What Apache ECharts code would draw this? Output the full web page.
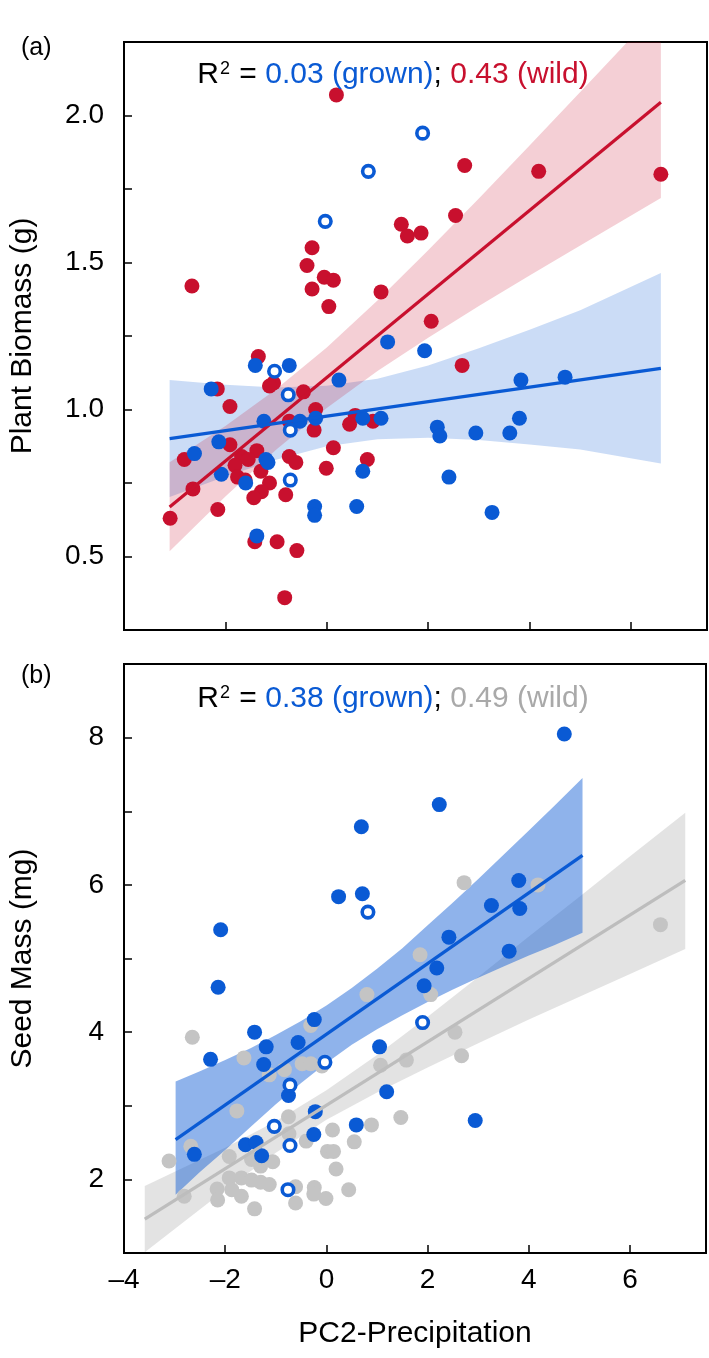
<!DOCTYPE html>
<html>
<head>
<meta charset="utf-8">
<title>Biomass and seed mass vs PC2-Precipitation</title>
<script src="https://cdn.jsdelivr.net/npm/echarts@6.0.0/dist/echarts.min.js"></script>
<style>
  html, body { margin: 0; padding: 0; background: #fff; }
  #chart { width: 709px; height: 1358px; }
</style>
</head>
<body>
<div id="chart"></div>
<script>
// ---- panel (a): plant biomass ----
const biomassWild = [
  [0.19, 2.07], [2.72, 1.83], [2.54, 1.66], [1.47, 1.63], [1.59, 1.59], [1.86, 1.60],
  [-0.29, 1.55], [-0.39, 1.49], [-0.05, 1.45], [0.13, 1.44], [-2.66, 1.42], [-0.29, 1.41],
  [1.07, 1.40], [0.04, 1.35], [2.06, 1.30], [4.18, 1.81], [6.59, 1.80], [2.67, 1.15],
  [-1.35, 1.18], [-1.05, 1.09], [-1.13, 1.08], [-2.16, 1.07], [-0.46, 1.06], [-1.91, 1.01],
  [-0.22, 1.00], [0.56, 0.98], [0.45, 0.95], [0.91, 0.96], [-0.74, 0.96], [-0.25, 0.93],
  [-1.91, 0.88], [-2.81, 0.83], [0.13, 0.87], [-1.38, 0.86], [-1.68, 0.84], [-1.55, 0.83],
  [-0.74, 0.84], [-0.61, 0.82], [-1.81, 0.81], [0.80, 0.83], [-0.01, 0.80], [-1.30, 0.79],
  [-1.76, 0.77], [-1.61, 0.76], [-1.13, 0.75], [-2.64, 0.73], [-1.29, 0.72], [-1.44, 0.70],
  [-0.81, 0.71], [-2.15, 0.66], [-3.09, 0.63], [-1.42, 0.55], [-0.98, 0.55], [-0.59, 0.52],
  [-0.83, 0.36]
]
const biomassGrown = [
  [1.20, 1.23], [1.93, 1.20], [-1.41, 1.15], [-0.74, 1.15], [0.24, 1.10], [-2.28, 1.07],
  [-0.22, 0.97], [0.71, 0.97], [1.07, 0.97], [-1.24, 0.96], [-0.53, 0.96], [2.18, 0.94],
  [2.23, 0.91], [2.94, 0.92], [-2.13, 0.89], [-2.61, 0.85], [-1.20, 0.83], [-1.16, 0.82],
  [0.71, 0.79], [-2.08, 0.78], [-1.60, 0.75], [-0.24, 0.67], [-0.24, 0.64], [0.59, 0.67],
  [3.26, 0.65], [-1.38, 0.57], [3.83, 1.10], [4.70, 1.11], [3.80, 0.97], [3.61, 0.92],
  [2.41, 0.77]
]
const biomassGrownOpen = [
  [1.89, 1.94], [0.82, 1.81], [-0.03, 1.64], [-1.03, 1.13], [-0.76, 1.05], [-0.72, 0.93], [-0.72, 0.76]
]
const biomassWildFit = [[-3.1, 0.668], [6.59, 2.045]]
const biomassGrownFit = [[-3.1, 0.901], [6.59, 1.140]]
const biomassBandX = [-3.1, -2, -1, 0, 1, 2, 3, 4, 5, 6.59]
const biomassWildLo = [0.518, 0.704, 0.863, 1.005, 1.131, 1.244, 1.352, 1.456, 1.558, 1.719]
const biomassWildHi = [0.821, 0.944, 1.069, 1.211, 1.371, 1.542, 1.718, 1.898, 2.080, 2.371]
const biomassGrownLo = [0.702, 0.772, 0.829, 0.875, 0.899, 0.904, 0.896, 0.881, 0.864, 0.816]
const biomassGrownHi = [1.100, 1.084, 1.075, 1.081, 1.105, 1.150, 1.208, 1.271, 1.338, 1.464]

// ---- panel (b): seed mass ----
const seedGrown = [
  [2.23, 7.09], [0.69, 6.79], [0.24, 5.84], [0.71, 5.88], [-2.09, 5.39], [2.42, 5.29],
  [2.18, 4.87], [4.70, 8.05], [3.80, 6.06], [3.26, 5.72], [3.82, 5.68], [3.61, 5.10],
  [1.93, 4.63], [-2.14, 4.61], [-0.24, 4.17], [-1.42, 4.00], [-1.19, 3.80], [-0.56, 3.86],
  [1.05, 3.80], [-2.29, 3.63], [-1.24, 3.56], [-0.75, 3.14], [1.19, 3.19], [-0.22, 2.92],
  [0.59, 2.74], [-0.25, 2.61], [-1.60, 2.47], [-1.39, 2.50], [-2.61, 2.34], [-1.28, 2.32],
  [2.94, 2.80]
]
const seedGrownOpen = [
  [0.82, 5.63], [1.90, 4.13], [-0.03, 3.59], [-0.72, 3.28], [-1.03, 2.72], [-0.72, 2.46], [-0.76, 1.86]
]
const seedWild = [
  [0.80, 4.51], [2.06, 4.51], [-2.65, 3.93], [-0.31, 4.09], [2.54, 4.00], [2.67, 3.68],
  [-1.63, 3.65], [-0.48, 3.57], [-0.31, 3.57], [-0.09, 3.54], [-0.83, 3.49], [-1.13, 3.42],
  [1.07, 3.55], [1.58, 3.62], [-1.77, 2.93], [-0.75, 2.85], [1.47, 2.84], [0.89, 2.74],
  [0.12, 2.67], [-0.74, 2.62], [-0.40, 2.52], [0.55, 2.51], [0.02, 2.38], [0.14, 2.38],
  [-2.68, 2.45], [-3.11, 2.25], [-1.92, 2.31], [-1.06, 2.24], [-1.30, 2.18], [-1.48, 2.27],
  [0.19, 2.14], [-1.92, 2.02], [-1.68, 2.02], [-1.48, 1.99], [-1.30, 1.96], [-1.13, 1.93],
  [-2.16, 1.87], [-1.87, 1.86], [-1.68, 1.77], [-2.81, 1.77], [-2.15, 1.72], [-1.42, 1.60],
  [-0.61, 1.90], [-0.61, 1.68], [-0.24, 1.89], [-0.25, 1.80], [-0.01, 1.74], [0.44, 1.86],
  [2.72, 6.03], [1.85, 5.05], [4.18, 6.00], [6.60, 5.46]
]
const seedGrownFit = [[-2.98, 2.54], [5.06, 6.40]]
const seedWildFit = [[-3.59, 1.46], [7.09, 6.06]]
const seedGrownBandX = [-2.98, -2.5, -2, -1.5, -1, -0.5, 0, 0.5, 1, 1.5, 2, 2.5, 3, 3.5, 4, 4.5, 5.06]
const seedGrownLo = [1.79, 2.10, 2.40, 2.71, 3.02, 3.31, 3.58, 3.83, 4.04, 4.23, 4.41, 4.58, 4.74, 4.89, 5.04, 5.18, 5.35]
const seedGrownHi = [3.33, 3.47, 3.62, 3.78, 3.96, 4.15, 4.36, 4.60, 4.86, 5.14, 5.45, 5.76, 6.08, 6.41, 6.74, 7.07, 7.45]
const seedWildBandX = [-3.59, -2, -1, 0, 1, 2, 3, 4, 5, 6, 7.09]
const seedWildLo = [1.01, 1.86, 2.36, 2.81, 3.18, 3.52, 3.85, 4.17, 4.48, 4.79, 5.13]
const seedWildHi = [1.91, 2.43, 2.79, 3.21, 3.69, 4.21, 4.75, 5.30, 5.84, 6.39, 6.98]

const colors = {
  red: '#C8102E',
  blue: '#0A5AD4',
  grey: '#C4C4C4',
  greyLine: '#BDBDBD',
  greyText: '#A9A9A9'
}
const FONT = "'Liberation Sans', Arial, Helvetica, sans-serif"

// confidence band drawn as one polygon through the axis scales
function band(idx, xs, lo, hi, fill) {
  return {
    type: 'custom',
    xAxisIndex: idx,
    yAxisIndex: idx,
    clip: true,
    silent: true,
    data: [[xs[0], lo[0]]],
    renderItem: function (params, api) {
      const pts = []
      xs.forEach((x, i) => pts.push(api.coord([x, hi[i]])))
      for (let i = xs.length - 1; i >= 0; i--) pts.push(api.coord([xs[i], lo[i]]))
      return { type: 'polygon', shape: { points: pts }, style: { fill: fill } }
    }
  }
}

function dots(idx, data, color) {
  return {
    type: 'scatter', xAxisIndex: idx, yAxisIndex: idx, data: data,
    symbolSize: 15, itemStyle: { color: color, opacity: 1 }, silent: true
  }
}

function rings(idx, data) {
  return {
    type: 'scatter', xAxisIndex: idx, yAxisIndex: idx, data: data,
    symbolSize: 11.5,
    itemStyle: { color: '#fff', borderColor: colors.blue, borderWidth: 3.6, opacity: 1 },
    silent: true
  }
}

function fit(idx, data, color) {
  return {
    type: 'line', xAxisIndex: idx, yAxisIndex: idx, data: data,
    symbol: 'none', lineStyle: { color: color, width: 3.2 }, silent: true
  }
}

function xAxis(idx, showLabels) {
  return {
    type: 'value', gridIndex: idx, min: -4, max: 7.5, interval: 2,
    axisLine: { show: true, onZero: false, lineStyle: { color: '#000', width: 2 } },
    axisTick: { show: true, inside: true, length: 8, lineStyle: { color: '#000', width: 1.5 } },
    splitLine: { show: false },
    axisLabel: {
      show: showLabels, margin: 13, color: '#000', fontSize: 28, fontFamily: FONT,
      showMinLabel: true, showMaxLabel: true,
      formatter: v => (v % 2 !== 0 ? '' : (v < 0 ? '\u2013' + Math.abs(v) : String(v)))
    },
    name: showLabels ? 'PC2-Precipitation' : '',
    nameLocation: 'middle', nameGap: 66,
    nameTextStyle: { color: '#000', fontSize: 30, fontFamily: FONT }
  }
}

function yAxis(idx, min, max, step, labelStep, digits, name) {
  return {
    type: 'value', gridIndex: idx, min: min, max: max, interval: step,
    axisLine: { show: true, onZero: false, lineStyle: { color: '#000', width: 2 } },
    axisTick: { show: true, inside: true, length: 8, lineStyle: { color: '#000', width: 1.5 } },
    splitLine: { show: false },
    axisLabel: {
      margin: 20, color: '#000', fontSize: 28, fontFamily: FONT,
      formatter: v => {
        const r = v / labelStep
        if (Math.abs(r - Math.round(r)) > 1e-6 || v === min || v === max) return ''
        return v.toFixed(digits)
      }
    },
    name: name, nameLocation: 'middle', nameGap: 86, nameRotate: 90,
    nameTextStyle: { color: '#000', fontSize: 30, fontFamily: FONT }
  }
}

function r2Text(top, grown, wild, wildStyle) {
  const base = { fontSize: 30, fontFamily: FONT, fontWeight: 'normal' }
  return {
    text: '{k|R}{s|2}{k| = }{b|' + grown + ' (grown)}{k|; }{' + wildStyle + '|' + wild + ' (wild)}',
    left: 388, top: top, textAlign: 'center',
    textStyle: {
      fontWeight: 'normal',
      rich: {
        k: Object.assign({ color: '#000' }, base),
        s: { color: '#000', fontSize: 18, fontFamily: FONT, fontWeight: 'normal', verticalAlign: 'top', padding: [0, 1, 0, 1] },
        b: Object.assign({ color: colors.blue }, base),
        r: Object.assign({ color: colors.red }, base),
        g: Object.assign({ color: colors.greyText }, base)
      }
    }
  }
}

const panelLabel = { fontSize: 25, fontWeight: 'normal', fontFamily: FONT, color: '#000' }

const option = {
  backgroundColor: '#fff',
  animation: false,
  title: [
    { text: '(a)', left: 16, top: 31, textStyle: panelLabel },
    { text: '(b)', left: 16, top: 659, textStyle: panelLabel },
    r2Text(55, '0.03', '0.43', 'r'),
    r2Text(679, '0.38', '0.49', 'g')
  ],
  grid: [
    { left: 118, right: 2, top: 42, height: 588, show: true, borderColor: '#000', borderWidth: 2, backgroundColor: 'transparent' },
    { left: 118, right: 2, top: 664, height: 589, show: true, borderColor: '#000', borderWidth: 2, backgroundColor: 'transparent' }
  ],
  xAxis: [xAxis(0, false), xAxis(1, true)],
  yAxis: [
    yAxis(0, 0.25, 2.25, 0.25, 0.5, 1, 'Plant Biomass (g)'),
    yAxis(1, 1, 9, 1, 2, 0, 'Seed Mass (mg)')
  ],
  series: [
    // (a)
    band(0, biomassBandX, biomassGrownLo, biomassGrownHi, 'rgba(10,90,212,0.21)'),
    band(0, biomassBandX, biomassWildLo, biomassWildHi, 'rgba(200,16,46,0.2)'),
    dots(0, biomassWild, colors.red),
    dots(0, biomassGrown, colors.blue),
    rings(0, biomassGrownOpen),
    fit(0, biomassWildFit, colors.red),
    fit(0, biomassGrownFit, colors.blue),
    // (b)
    band(1, seedWildBandX, seedWildLo, seedWildHi, 'rgba(150,150,150,0.27)'),
    dots(1, seedWild, colors.grey),
    fit(1, seedWildFit, colors.greyLine),
    band(1, seedGrownBandX, seedGrownLo, seedGrownHi, 'rgba(10,90,212,0.46)'),
    dots(1, seedGrown, colors.blue),
    rings(1, seedGrownOpen),
    fit(1, seedGrownFit, colors.blue)
  ]
}

const chart = echarts.init(document.getElementById('chart'))
chart.setOption(option)
</script>
</body>
</html>
